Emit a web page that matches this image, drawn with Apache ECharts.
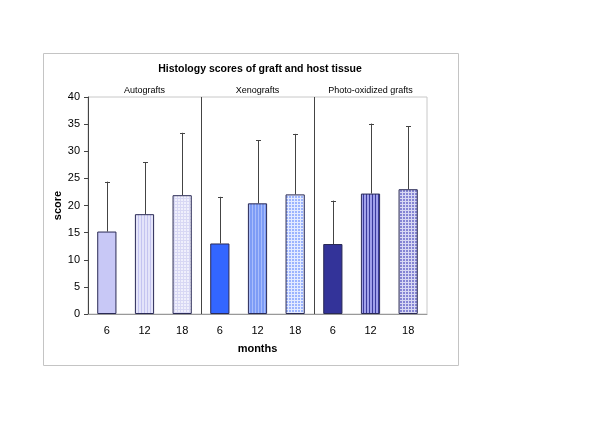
<!DOCTYPE html>
<html>
<head>
<meta charset="utf-8">
<script src="https://cdn.jsdelivr.net/npm/echarts@6/dist/echarts.min.js"></script>
<style>html,body{margin:0;padding:0;background:#fff}#c{width:600px;height:423px}</style>
</head>
<body>
<div id="c"></div>
<script>
var groups = ['Autografts', 'Xenografts', 'Photo-oxidized grafts'];
var months = ['6', '12', '18'];
var meansAuto = [15.2, 18.4, 21.9];
var meansXeno = [13.0, 20.4, 22.05];
var meansPhoto = [12.9, 22.2, 23.0];
var upperAuto = [24.4, 28.0, 33.4];
var upperXeno = [21.6, 32.0, 33.2];
var upperPhoto = [20.9, 35.1, 34.6];
var yTicks = [0, 5, 10, 15, 20, 25, 30, 35, 40];

function pattern(bg, fg, kind) {
  var c = document.createElement('canvas');
  c.width = 3; c.height = 3;
  var g = c.getContext('2d');
  g.fillStyle = bg; g.fillRect(0, 0, 3, 3);
  g.fillStyle = fg;
  if (kind === 'v') { g.fillRect(0, 0, 1, 3); }
  else if (kind === 'grid') { g.fillRect(0, 0, 1, 3); g.fillRect(0, 0, 3, 1); }
  else if (kind === 'dot') { g.fillRect(0, 0, 1, 1); }
  return { image: c, repeat: 'repeat' };
}

var fills = [
  '#c8c8f6',
  pattern('#e4e4fa', '#c4c4f0', 'v'),
  pattern('#f0f0fc', '#d8d8f4', 'grid'),
  '#3366ff',
  pattern('#7d9cf6', '#a8bcfb', 'v'),
  pattern('#9cb4fe', '#e4ebff', 'grid'),
  '#333399',
  pattern('#a0a0ea', '#3a3a9c', 'v'),
  pattern('#8585d4', '#d8d8f4', 'grid')
];

var means = meansAuto.concat(meansXeno, meansPhoto);
var uppers = upperAuto.concat(upperXeno, upperPhoto);
var cats = [];
groups.forEach(function (g) { months.forEach(function (m) { cats.push(g + '|' + m); }); });

var barData = means.map(function (v, i) {
  return { value: v, itemStyle: { color: fills[i] } };
});
var errData = means.map(function (v, i) { return [i, uppers[i], v]; });
var sepData = [[2], [5]];

var chart = echarts.init(document.getElementById('c'));
chart.setOption({
  animation: false,
  textStyle: { fontFamily: 'Liberation Sans, Arial, sans-serif' },
  title: {
    text: 'Histology scores of graft and host tissue',
    left: 255, top: 59, textAlign: 'center',
    textStyle: { fontSize: 10.5, fontWeight: 'bold', color: '#000' }
  },
  graphic: [{
    type: 'rect', shape: { x: 43.5, y: 53.5, width: 415, height: 312 },
    style: { fill: null, stroke: '#c4c4c4', lineWidth: 1 }, silent: true, z: -10
  }],
  grid: { left: 88, right: 173, top: 97, bottom: 109, show: true, borderColor: '#c8c8c8', borderWidth: 1 },
  xAxis: [{
    type: 'category', data: cats, position: 'bottom',
    axisLine: { lineStyle: { color: '#999' } },
    axisTick: { lineStyle: { color: '#999' }, length: 4 },
    axisLabel: { color: '#000', fontSize: 11, margin: 11, formatter: function (v) { return v.split('|')[1]; } },
    name: 'months', nameLocation: 'middle', nameGap: 29,
    nameTextStyle: { fontWeight: 'bold', fontSize: 11, color: '#000' }
  }, {
    type: 'category', data: groups, position: 'top',
    axisLine: { show: false }, axisTick: { show: false },
    axisLabel: { color: '#000', fontSize: 9, margin: 2 }
  }],
  yAxis: {
    type: 'value', min: yTicks[0], max: yTicks[yTicks.length - 1], interval: 5,
    axisLine: { show: true, lineStyle: { color: '#444' } },
    axisTick: { show: true, length: 4, lineStyle: { color: '#444' } },
    splitLine: { show: false },
    axisLabel: { color: '#000', fontSize: 11, margin: 8 },
    name: 'score', nameLocation: 'middle', nameGap: 25, nameRotate: 90, nameMoveOverlap: false,
    nameTextStyle: { fontWeight: 'bold', fontSize: 11, color: '#000' }
  },
  series: [{
    type: 'bar', data: barData, barWidth: '51%',
    itemStyle: { borderColor: '#2a2a55', borderWidth: 1 }
  }, {
    type: 'custom', data: errData, z: 3,
    renderItem: function (params, api) {
      var top = api.coord([api.value(0), api.value(1)]);
      var base = api.coord([api.value(0), api.value(2)]);
      return {
        type: 'group', children: [
          { type: 'line', shape: { x1: Math.round(top[0]) + 0.5, y1: top[1], x2: Math.round(top[0]) + 0.5, y2: base[1] }, style: { stroke: '#444', lineWidth: 1 } },
          { type: 'line', shape: { x1: Math.round(top[0]) - 2, y1: Math.round(top[1]) + 0.5, x2: Math.round(top[0]) + 3, y2: Math.round(top[1]) + 0.5 }, style: { stroke: '#444', lineWidth: 1 } }
        ]
      };
    }
  }, {
    type: 'custom', data: sepData, z: 3,
    renderItem: function (params, api) {
      var idx = api.value(0);
      var bw = api.size([1, 0])[0];
      var a = api.coord([idx, yTicks[yTicks.length - 1]]);
      var b = api.coord([idx, 0]);
      var x = Math.round(a[0] + bw / 2) + 0.5;
      return { type: 'line', shape: { x1: x, y1: a[1], x2: x, y2: b[1] }, style: { stroke: '#444', lineWidth: 1 } };
    }
  }]
});
</script>
</body>
</html>
